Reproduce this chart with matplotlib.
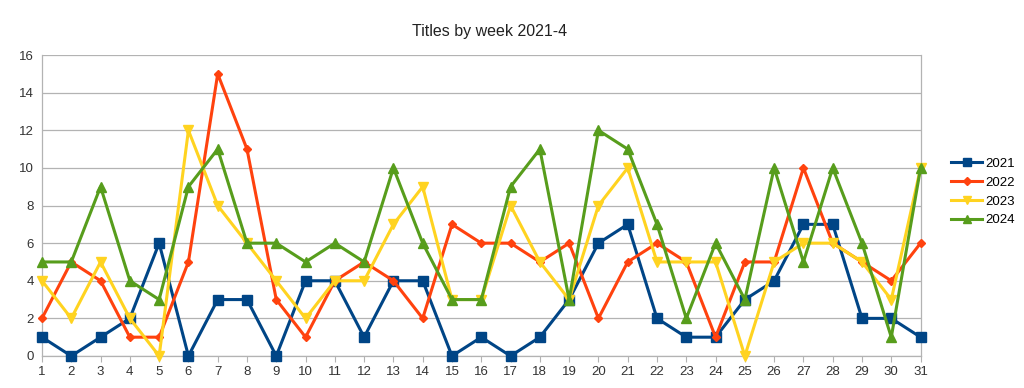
import matplotlib.pyplot as plt

# --- Data ---
weeks = list(range(1, 32))
y2021 = [1, 0, 1, 2, 6, 0, 3, 3, 0, 4, 4, 1, 4, 4, 0, 1, 0, 1, 3, 6, 7, 2, 1, 1, 3, 4, 7, 7, 2, 2, 1]
y2022 = [2, 5, 4, 1, 1, 5, 15, 11, 3, 1, 4, 5, 4, 2, 7, 6, 6, 5, 6, 2, 5, 6, 5, 1, 5, 5, 10, 6, 5, 4, 6]
y2023 = [4, 2, 5, 2, 0, 12, 8, 6, 4, 2, 4, 4, 7, 9, 3, 3, 8, 5, 3, 8, 10, 5, 5, 5, 0, 5, 6, 6, 5, 3, 10]
y2024 = [5, 5, 9, 4, 3, 9, 11, 6, 6, 5, 6, 5, 10, 6, 3, 3, 9, 11, 3, 12, 11, 7, 2, 6, 3, 10, 5, 10, 6, 1, 10]

series_labels = ['2021', '2022', '2023', '2024']
series_values = [y2021, y2022, y2023, y2024]
colors = ['#004586', '#ff420e', '#ffd320', '#579d1c']
markers = ['s', 'D', 'v', '^']
marker_sizes = [7, 4.5, 7.5, 7.5]

plt.rcParams['font.family'] = ['Liberation Sans', 'DejaVu Sans']

fig = plt.figure(figsize=(10.24, 3.88), dpi=100)
ax = fig.add_axes([0.041, 0.0825, 0.858, 0.7755])

for vals, lab, c, m, ms in zip(series_values, series_labels, colors, markers, marker_sizes):
    ax.plot(weeks, vals, color=c, marker=m, markersize=ms, linewidth=2.2,
            label=lab, clip_on=False, zorder=3)

ax.set_xlim(1, 31)
ax.set_ylim(0, 16)
ax.set_xticks(weeks)
ax.set_yticks(range(0, 17, 2))
ax.tick_params(axis='both', labelsize=9.5, colors='#b3b3b3', labelcolor='#333333')
ax.tick_params(axis='x', length=4, pad=3)
ax.tick_params(axis='y', length=0, pad=6)
ax.grid(axis='y', color='#b3b3b3', linewidth=0.9)
ax.set_axisbelow(True)
ax.spines['top'].set_visible(False)
for side in ['left', 'right', 'bottom']:
    ax.spines[side].set_color('#b3b3b3')
    ax.spines[side].set_linewidth(0.9)

fig.text(0.478, 0.92, 'Titles by week 2021-4', ha='center', va='center', fontsize=11.5, color='#222222')

ax.legend(loc='center left', bbox_to_anchor=(1.035, 0.545), frameon=False,
          borderaxespad=0, borderpad=0, fontsize=9.5, handlelength=2.3,
          labelspacing=0.5, handletextpad=0.3, markerscale=0.85)

fig.savefig('out.png', dpi=100)
